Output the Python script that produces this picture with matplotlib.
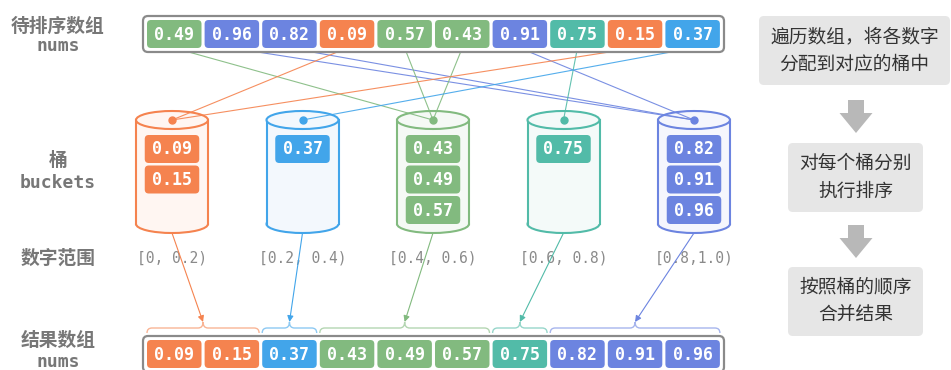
import numpy as np
import matplotlib
matplotlib.use("Agg")
import matplotlib.pyplot as plt
from matplotlib.patches import FancyBboxPatch, Ellipse, Polygon, PathPatch
from matplotlib.path import Path

# data
nums = [0.49, 0.96, 0.82, 0.09, 0.57, 0.43, 0.91, 0.75, 0.15, 0.37]
n_buckets = 5
ranges = ["[0, 0.2)", "[0.2, 0.4)", "[0.4, 0.6)", "[0.6, 0.8)", "[0.8,1.0)"]
left_labels = [("待排序数组", "nums"), ("桶", "buckets"), ("数字范围", None), ("结果数组", "nums")]
steps = ["遍历数组，将各数字\n分配到对应的桶中", "对每个桶分别\n执行排序", "按照桶的顺序\n合并结果"]

colors = ["#f5834f", "#42a5ea", "#82ba7f", "#52bba8", "#6c84e0"]
fills = ["#fff6f2", "#f3f8fd", "#f5f9f5", "#f4faf9", "#f5f6fd"]

buckets = [[] for _ in range(n_buckets)]
for v in nums:
    buckets[int(v * n_buckets)].append(v)
for b in buckets:
    b.sort()
result = [v for b in buckets for v in b]

plt.rcParams['font.family'] = ['Noto Sans CJK SC', 'DejaVu Sans']
fig = plt.figure(figsize=(9.51, 3.70), dpi=100)
ax = fig.add_axes([0, 0, 1, 1])
ax.set_xlim(0, 951)
ax.set_ylim(370, 0)
ax.axis('off')

x0, pitch, cw, ch = 147, 57.6, 54.5, 28
mono = 'DejaVu Sans Mono'


def cell(x, y, v, c):
    ax.add_patch(FancyBboxPatch((x, y), cw, ch, boxstyle="round,pad=0,rounding_size=4",
                                fc=c, ec='none', zorder=4))
    ax.text(x + cw / 2, y + ch / 2 + 0.5, f"{v:.2f}", color='white', family=mono,
            fontsize=12, fontweight='bold', ha='center', va='center', zorder=5)


def bucket_of(v):
    return int(v * n_buckets)


def array_row(vals, ytop):
    ax.add_patch(FancyBboxPatch((x0 - 4, ytop - 4), len(vals) * pitch + 5, ch + 8,
                                boxstyle="round,pad=0,rounding_size=5", fc='white',
                                ec='#8a8a8a', lw=1.6, zorder=3))
    for i, v in enumerate(vals):
        cell(x0 + i * pitch, ytop, v, colors[bucket_of(v)])


top_y, bot_y = 20, 340
array_row(nums, top_y)
array_row(result, bot_y)

# buckets (cylinders)
bx = [172 + 130.5 * k for k in range(n_buckets)]
cyl_w, ry, ytop_c, ybot_c = 72, 9, 120, 224
for k in range(n_buckets):
    c = bx[k]
    ax.add_patch(Ellipse((c, ybot_c), cyl_w, 2 * ry, fc=fills[k], ec=colors[k], lw=1.5, zorder=1))
    ax.add_patch(Polygon([(c - cyl_w / 2 + 0.8, ytop_c), (c - cyl_w / 2 + 0.8, ybot_c),
                          (c + cyl_w / 2 - 0.8, ybot_c), (c + cyl_w / 2 - 0.8, ytop_c)],
                         fc=fills[k], ec='none', zorder=1.5))
    ax.plot([c - cyl_w / 2] * 2, [ytop_c, ybot_c], color=colors[k], lw=1.5, zorder=2)
    ax.plot([c + cyl_w / 2] * 2, [ytop_c, ybot_c], color=colors[k], lw=1.5, zorder=2)
    ax.add_patch(Ellipse((c, ytop_c), cyl_w, 2 * ry, fc=fills[k], ec=colors[k], lw=1.5, zorder=2))
    ax.plot(c, ytop_c, 'o', ms=5, color=colors[k], zorder=3)
    for j, v in enumerate(buckets[k]):
        cell(c - cw / 2, 135 + j * 30.5, v, colors[k])
    ax.text(c, 258, ranges[k], family=mono, fontsize=10.5, color='#8a8a8a',
            ha='center', va='center', zorder=1)

# lines from input array to buckets
for i, v in enumerate(nums):
    k = bucket_of(v)
    ax.plot([x0 + i * pitch + cw / 2, bx[k]], [top_y + ch, ytop_c], color=colors[k],
            lw=0.8, alpha=0.9, zorder=2.5)

# braces and arrows to result
start = 0
for k in range(n_buckets):
    n = len(buckets[k])
    if n == 0:
        continue
    xl = x0 + start * pitch
    xr = x0 + (start + n - 1) * pitch + cw
    xm = (xl + xr) / 2
    yb, yh, yt = 333, 328, 322
    verts = [(xl, yb), (xl, yh), (xl + 5, yh), (xm - 5, yh), (xm, yh), (xm, yt),
             (xm, yh), (xm + 5, yh), (xr - 5, yh), (xr, yh), (xr, yb)]
    codes = [Path.MOVETO, Path.CURVE3, Path.CURVE3, Path.LINETO, Path.CURVE3, Path.CURVE3,
             Path.CURVE3, Path.CURVE3, Path.LINETO, Path.CURVE3, Path.CURVE3]
    ax.add_patch(PathPatch(Path(verts, codes), fc='none', ec=colors[k], lw=1.0, alpha=0.6))
    ax.annotate("", xy=(xm, yt), xytext=(bx[k], ybot_c + ry),
                arrowprops=dict(arrowstyle='-|>', color=colors[k], lw=0.8,
                                mutation_scale=9, shrinkA=0, shrinkB=0))
    start += n

# left labels
lab_y = [(26, 46), (160, 183), (258, None), (340, 362)]
for (zh, en), (y1, y2) in zip(left_labels, lab_y):
    ax.text(58, y1, zh, fontsize=13.5, fontweight='bold', color='#777777',
            ha='center', va='center')
    if en:
        ax.text(58, y2, en, family=mono, fontsize=13, fontweight='bold',
                color='#777777', ha='center', va='center')

# right side step boxes
boxes = [(759, 16, 191, 69), (788, 143, 135, 69), (788, 267, 135, 69)]
for (x, y, w, h), s in zip(boxes, steps):
    ax.add_patch(FancyBboxPatch((x, y), w, h, boxstyle="round,pad=0,rounding_size=5",
                                fc='#e6e6e6', ec='none'))
    ax.text(x + w / 2, y + h / 2, s, fontsize=13.5, color='#333333', ha='center',
            va='center', linespacing=1.45)

for ya in [100, 225]:
    ax.add_patch(Polygon([(848, ya), (864, ya), (864, ya + 13), (872.5, ya + 13),
                          (856, ya + 33), (839.5, ya + 13), (848, ya + 13)],
                         fc='#b8b8b8', ec='none'))

fig.savefig("out.png", dpi=100)
